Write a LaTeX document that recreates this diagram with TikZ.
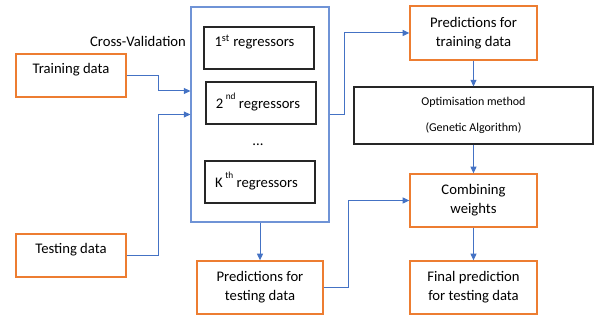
\documentclass[tikz,border=0pt]{standalone}
\usepackage{fontspec}
\setmainfont{Carlito}
\usetikzlibrary{arrows.meta}
\definecolor{boxorange}{HTML}{ED7D31}
\definecolor{lineblue}{HTML}{4472C4}
\definecolor{cvblue}{HTML}{6F93D6}
% raised ordinal suffix, set a little higher than a normal superscript
\newcommand{\ordsup}[1]{\raisebox{1.15ex}{\fontsize{7}{8}\selectfont #1}}
\begin{document}
\begin{tikzpicture}[x=0.75pt,y=-0.75pt,
  every node/.style={font=\fontsize{11}{14}\selectfont, inner sep=0pt},
  boxsize/.style 2 args={minimum width=#1*0.75pt, minimum height=#2*0.75pt},
  databox/.style={draw=boxorange, line width=1pt, align=center},
  regbox/.style={draw=black!85, line width=0.8pt},
  cvbox/.style={draw=cvblue, line width=0.8pt},
  optbox/.style={draw=black!85, line width=0.8pt, align=center, font=\fontsize{9}{11}\selectfont},
  flow/.style={draw=lineblue, line width=0.75pt, -{Triangle[length=5pt,width=4.5pt]}},
]
\useasboundingbox (0,0) rectangle (600,323);

% inputs
\node[databox, boxsize={110}{43}] (train) at (71,75.5) {};
\node (traintxt) at (71,70) {Training data};
\node[databox, boxsize={110}{43}] (test) at (71,255.5) {};
\node (testtxt) at (71,249.5) {Testing data};

% cross-validation block
\node (cvlabel) at (138,41) {Cross-Validation};
\node[cvbox, boxsize={138}{215}] (cv) at (260,114.5) {};
\node[regbox, boxsize={110}{42}] (r1) at (259,48) {};
\node (r1txt) at (254.5,42) {1\textsuperscript{st} regressors};
\node[regbox, boxsize={110}{42}] (r2) at (261,103) {};
\node (r2txt) at (258,102) {2\,\ordsup{nd}\ regressors};
\node (dots) at (258,145) {...};
\node[regbox, boxsize={110}{42}] (rk) at (260,182) {};
\node (rktxt) at (256.5,181) {K\,\ordsup{th}\ regressors};

% predictions and weighting
\node[databox, boxsize={127}{54}] (ptrain) at (473.5,33) {Predictions for\\training data};
\node[optbox, boxsize={239}{57}] (opt) at (473.5,115.5) {Optimisation method\\[9pt](Genetic Algorithm)};
\node[databox, boxsize={127}{53}] (comb) at (473.5,200.5) {Combining\\weights};
\node[databox, boxsize={127}{53}] (final) at (473.5,287.5) {Final prediction\\for testing data};
\node[databox, boxsize={126}{53}] (ptest) at (260,287.5) {Predictions for\\testing data};

% connectors
\coordinate (cvin) at (cv.west |- 0,91);
\draw[flow] (train.east) -- ++(32,0) |- (cvin);
\draw[flow] (test.east) -- ++(32,0) |- (cv.west);
\draw[flow] (cv.east) -- ++(15,0) |- (ptrain.west);
\draw[flow] (cv.south) -- (ptest.north);
\draw[flow] (ptest.east) -- ++(25,0) |- (comb.west);
\draw[flow] (ptrain.south) -- (opt.north);
\draw[flow] (opt.south) -- (comb.north);
\draw[flow] (comb.south) -- (final.north);
\end{tikzpicture}
\end{document}
